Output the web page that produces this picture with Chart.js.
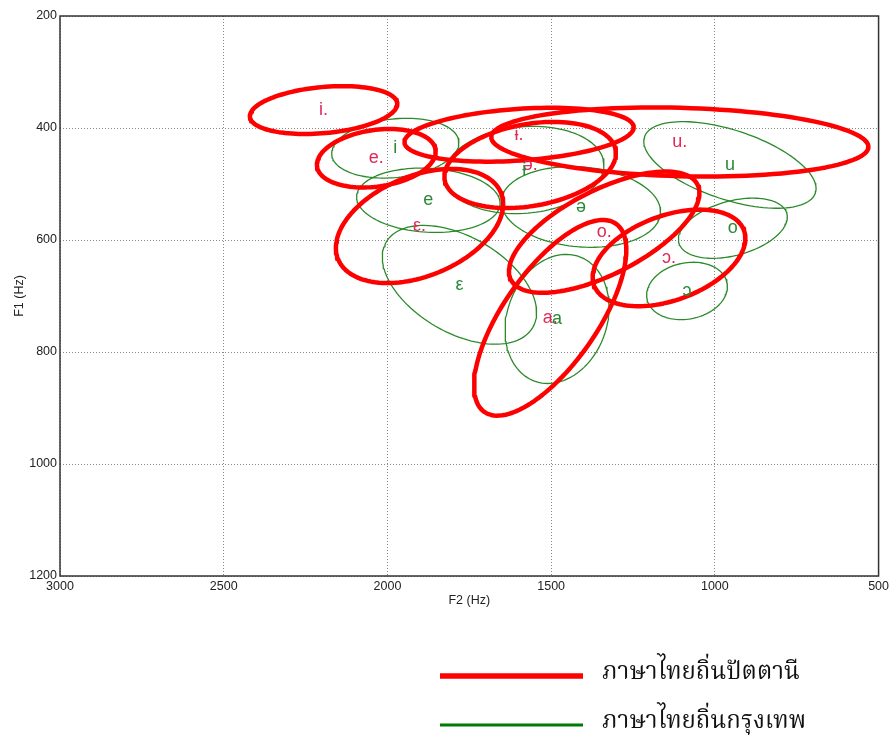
<!DOCTYPE html>
<html><head><meta charset="utf-8">
<script src="https://cdn.jsdelivr.net/npm/chart.js@4.4.0/dist/chart.umd.min.js"></script>
<style>html,body{margin:0;padding:0;background:#fff}#wrap{position:relative;width:892px;height:737px}</style>
</head><body><div id="wrap"><canvas id="c"></canvas></div>
<script>
// ---- data ----
const seriesNames = ['ภาษาไทยถิ่นปัตตานี', 'ภาษาไทยถิ่นกรุงเทพ'];
const xTicks = [3000, 2500, 2000, 1500, 1000, 500];
const yTicks = [200, 400, 600, 800, 1000, 1200];

// Pattani Thai (red): vowel, mean F2, mean F1 and two semi-axis vectors (Hz)
const pattaniVowels  = ['i.', 'e.', 'ε.', 'ɨ.', 'ə.', 'u.', 'o.', 'ɔ.', 'a.'];
const pattaniF2      = [2195, 2034, 1902, 1598, 1564, 1107, 1338, 1140, 1503];
const pattaniF1      = [368, 454, 575, 412, 466, 425, 586, 632, 739];
const pattaniAx1F2   = [-225, -181, -249, -350, -261, -576, -285, -229, -201];
const pattaniAx1F1   = [-12, -15, -59, -14, -27, 9, -85, -49, -168];
const pattaniAx2F2   = [-6, -12, -57, -6, -22, 3, -58, -44, -117];
const pattaniAx2F1   = [41, 50, 83, 46, 72, 61, 67, 71, 48];

// Bangkok Thai (green)
const bangkokVowels  = ['i', 'e', 'ε', 'ɨ', 'ə', 'u', 'o', 'ɔ', 'a'];
const bangkokF2      = [1976, 1875, 1780, 1582, 1409, 954, 945, 1085, 1482];
const bangkokF1      = [436, 529, 680, 475, 541, 466, 579, 691, 741];
const bangkokAx1F2   = [-194, -219, -224, -243, -243, -261, -165, -122, -69];
const bangkokAx1F1   = [-12, 7, 76, -12, 12, 50, -26, -15, -111];
const bangkokAx2F2   = [-9, 5, 73, -11, 11, 33, -21, -18, -143];
const bangkokAx2F1   = [52, 57, 74, 77, 71, 59, 47, 49, 31];

// ---- styles ----
const RED = '#ff0000', GREEN = '#2a8a2a';
const RED_TXT = '#de2a58', GREEN_TXT = '#2a8a35';

function outline(f2, f1, a2, a1, b2, b1) {
  const pts = [];
  const N = 120;
  for (let k = 0; k <= N + 1; k++) {
    const t = 2 * Math.PI * k / N;
    pts.push({ x: f2 + Math.cos(t) * a2 + Math.sin(t) * b2,
               y: f1 + Math.cos(t) * a1 + Math.sin(t) * b1 });
  }
  return pts;
}

const common = { showLine: true, pointRadius: 0, fill: false, tension: 0,
                 borderCapStyle: 'round', borderJoinStyle: 'round' };
const datasets = [];
pattaniVowels.forEach((v, i) => datasets.push(Object.assign({
  label: seriesNames[0], vowel: v, group: 0,
  center: { x: pattaniF2[i], y: pattaniF1[i] },
  data: outline(pattaniF2[i], pattaniF1[i], pattaniAx1F2[i], pattaniAx1F1[i], pattaniAx2F2[i], pattaniAx2F1[i]),
  borderColor: RED, borderWidth: 4.5
}, common)));
bangkokVowels.forEach((v, i) => datasets.push(Object.assign({
  label: seriesNames[1], vowel: v, group: 1,
  center: { x: bangkokF2[i], y: bangkokF1[i] },
  data: outline(bangkokF2[i], bangkokF1[i], bangkokAx1F2[i], bangkokAx1F1[i], bangkokAx2F2[i], bangkokAx2F1[i]),
  borderColor: GREEN, borderWidth: 1.3
}, common)));

const labelPlugin = {
  id: 'vowelLabels',
  afterDatasetsDraw(chart) {
    const { ctx, scales: { x, y } } = chart;
    ctx.save();
    ctx.font = '18px "Liberation Sans", Arial, sans-serif';
    ctx.textAlign = 'center';
    ctx.textBaseline = 'middle';
    [0, 1].forEach(g => {
      chart.data.datasets.forEach(ds => {
        if (ds.group !== g) return;
        ctx.fillStyle = g === 0 ? RED_TXT : GREEN_TXT;
        ctx.fillText(ds.vowel, x.getPixelForValue(ds.center.x), y.getPixelForValue(ds.center.y));
      });
    });
    ctx.restore();
  }
};

const framePlugin = {
  id: 'frame',
  afterDraw(chart) {
    const { ctx, chartArea: a } = chart;
    ctx.save();
    ctx.strokeStyle = '#333';
    ctx.lineWidth = 1.5;
    ctx.strokeRect(a.left, a.top, a.right - a.left, a.bottom - a.top);
    // legend
    const items = [
      { name: seriesNames[0], color: RED, w: 5.5, y: 676 },
      { name: seriesNames[1], color: '#007a00', w: 3, y: 725 }
    ];
    items.forEach(it => {
      ctx.strokeStyle = it.color;
      ctx.lineWidth = it.w;
      ctx.beginPath();
      ctx.moveTo(440, it.y);
      ctx.lineTo(583, it.y);
      ctx.stroke();
      ctx.fillStyle = '#111';
      ctx.font = '24px "Noto Serif Thai", "Noto Sans Thai", "TH Sarabun New", "Garuda", serif';
      ctx.textAlign = 'left';
      ctx.textBaseline = 'middle';
      ctx.fillText(it.name, 602, it.y - 1);
    });
    ctx.restore();
  }
};

const tickFont = { family: '"Liberation Sans", Arial, sans-serif', size: 12.5 };
const titleFont = { family: '"Liberation Sans", Arial, sans-serif', size: 12.5 };

new Chart(document.getElementById('c'), {
  type: 'scatter',
  data: { datasets },
  options: {
    responsive: true,
    maintainAspectRatio: false,
    animation: false,
    events: [],
    layout: { padding: { left: 8, right: 12, top: 16, bottom: 125 } },
    plugins: { legend: { display: false }, tooltip: { enabled: false } },
    scales: {
      x: {
        type: 'linear', reverse: true, min: 500, max: 3000,
        afterBuildTicks: s => { s.ticks = xTicks.map(v => ({ value: v })); },
        afterFit: s => { s.height = 36; },
        ticks: { font: tickFont, color: '#222', padding: 3, maxRotation: 0, autoSkip: false, callback: v => String(v) },
        grid: { color: '#888', lineWidth: 1, drawTicks: false },
        border: { display: false, dash: [1, 2] },
        title: { display: true, text: 'F2 (Hz)', font: titleFont, color: '#222', padding: { top: 4, bottom: 4 } }
      },
      y: {
        type: 'linear', reverse: true, min: 200, max: 1200,
        afterBuildTicks: s => { s.ticks = yTicks.map(v => ({ value: v })); },
        afterFit: s => { s.width = 52; },
        ticks: { font: tickFont, color: '#222', padding: 3, autoSkip: false, callback: v => String(v) },
        grid: { color: '#888', lineWidth: 1, drawTicks: false },
        border: { display: false, dash: [1, 2] },
        title: { display: true, text: 'F1 (Hz)', font: titleFont, color: '#222', padding: { top: 4, bottom: 4 } }
      }
    }
  },
  plugins: [labelPlugin, framePlugin]
});
</script>
</body></html>
